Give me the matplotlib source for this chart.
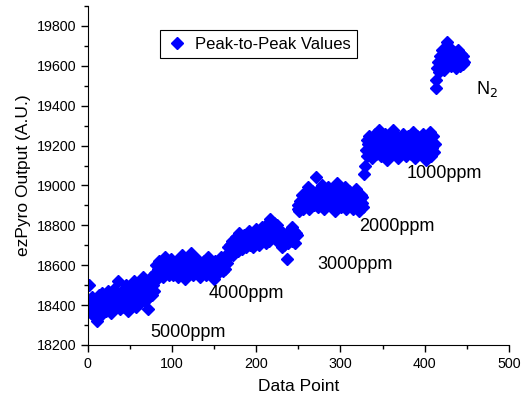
import numpy as np
import matplotlib
matplotlib.use("Agg")
import matplotlib.pyplot as plt
from matplotlib.ticker import MultipleLocator

plt.rcParams['font.family'] = ['Liberation Sans', 'DejaVu Sans']

# Peak-to-peak values per concentration step
seg_5000 = [18500, 18390, 18420, 18360, 18440, 18380, 18410, 18340, 18430, 18370,
            18320, 18400, 18450, 18380, 18420, 18350, 18460, 18410, 18390, 18440,
            18370, 18430, 18400, 18470, 18380, 18420, 18450, 18360, 18440, 18410,
            18480, 18390, 18430, 18460, 18400, 18520, 18420, 18380, 18450, 18410,
            18470, 18430, 18390, 18440, 18500, 18410, 18460, 18370, 18430, 18480,
            18450, 18400, 18470, 18420, 18520, 18440, 18390, 18460, 18490, 18430,
            18470, 18410, 18500, 18450, 18430, 18540, 18470, 18420, 18490, 18460,
            18380, 18510, 18440, 18480, 18540, 18450, 18500, 18470]
seg_4000 = [18540, 18560, 18600, 18530, 18580, 18620, 18550, 18590, 18570, 18610,
            18540, 18600, 18580, 18640, 18560, 18590, 18620, 18550, 18600, 18570,
            18630, 18580, 18550, 18610, 18590, 18570, 18620, 18600, 18540, 18580,
            18610, 18560, 18590, 18650, 18570, 18600, 18530, 18580, 18620, 18560,
            18590, 18610, 18570, 18600, 18660, 18580, 18550, 18620, 18590, 18570,
            18600, 18630, 18560, 18590, 18540, 18610, 18580, 18600, 18570, 18620,
            18590, 18550, 18600, 18580, 18640, 18570, 18590, 18610, 18560, 18600,
            18580, 18530, 18620, 18590, 18570, 18600, 18560, 18610, 18580, 18640,
            18590, 18570, 18620, 18600, 18580, 18650, 18610]
seg_3000 = [18640, 18690, 18660, 18700, 18670, 18720, 18650, 18690, 18710, 18680,
            18740, 18700, 18670, 18720, 18760, 18690, 18710, 18680, 18730, 18700,
            18750, 18720, 18690, 18740, 18710, 18770, 18730, 18700, 18750, 18720,
            18690, 18760, 18740, 18710, 18780, 18730, 18750, 18700, 18770, 18740,
            18720, 18790, 18750, 18730, 18760, 18710, 18800, 18740, 18770, 18720,
            18830, 18760, 18740, 18790, 18750, 18810, 18770, 18730, 18760, 18800,
            18740, 18710, 18770, 18750, 18690, 18730, 18760, 18700, 18740, 18720,
            18630, 18750, 18710, 18770, 18730, 18760, 18720, 18790, 18740, 18770,
            18710, 18760, 18750]
seg_2000 = [18880, 18900, 18870, 18920, 18890, 18950, 18910, 18880, 18940, 18960,
            18900, 18930, 18990, 18920, 18880, 18950, 18910, 18970, 18940, 18900,
            18960, 18920, 19040, 18950, 18890, 18980, 18930, 18910, 18960, 19000,
            18920, 18950, 18880, 18940, 18970, 18910, 18990, 18930, 18960, 18900,
            18950, 18920, 18980, 18940, 18870, 18960, 18930, 19010, 18910, 18950,
            18920, 18970, 18890, 18940, 18960, 18910, 18990, 18930, 18880, 18950,
            18920, 18970, 18940, 18900, 18960, 18930, 18880, 18950, 18910, 18980,
            18940, 18900, 18960, 18870, 18930, 18950, 18910, 18940, 18890]
seg_1000 = [19060, 19100, 19180, 19230, 19150, 19210, 19250, 19170, 19200, 19240,
            19140, 19220, 19190, 19260, 19160, 19210, 19230, 19180, 19280, 19200,
            19150, 19240, 19190, 19220, 19170, 19260, 19210, 19130, 19230, 19190,
            19250, 19170, 19220, 19200, 19280, 19160, 19230, 19190, 19210, 19250,
            19140, 19220, 19180, 19240, 19200, 19170, 19260, 19210, 19190, 19230,
            19150, 19220, 19250, 19180, 19200, 19240, 19160, 19210, 19270, 19190,
            19230, 19140, 19200, 19250, 19180, 19220, 19160, 19240, 19200, 19190,
            19260, 19170, 19220, 19130, 19210, 19240, 19180, 19200, 19270, 19150,
            19220, 19190, 19250, 19170, 19210]
seg_n2 = [19490, 19530, 19590, 19620, 19570, 19650, 19600, 19630, 19680, 19610,
          19580, 19660, 19640, 19600, 19720, 19650, 19620, 19690, 19600, 19640,
          19660, 19610, 19670, 19630, 19590, 19650, 19620, 19680, 19640, 19600,
          19660, 19630, 19610, 19650, 19620]

values = np.array(seg_5000 + seg_4000 + seg_3000 + seg_2000 + seg_1000 + seg_n2)
points = np.arange(1, len(values) + 1)

labels = ["5000ppm", "4000ppm", "3000ppm", "2000ppm", "1000ppm", "N$_2$"]
label_x = [119, 188, 317, 367, 423, 474]
label_y = [18265, 18460, 18605, 18795, 19060, 19485]

fig = plt.figure(figsize=(5.23, 4.0), dpi=100)
ax = fig.add_axes([0.168, 0.1375, 0.805, 0.8475])

ax.plot(points, values, linestyle="none", marker="D", ms=6.3,
        color="#0000ff", mec="#0000ff", label="Peak-to-Peak Values")

for t, x, y in zip(labels, label_x, label_y):
    ax.text(x, y, t, fontsize=13, ha="center", va="center")

ax.set_xlim(0, 500)
ax.set_ylim(18200, 19900)
ax.xaxis.set_major_locator(MultipleLocator(100))
ax.xaxis.set_minor_locator(MultipleLocator(50))
ax.yaxis.set_major_locator(MultipleLocator(200))
ax.yaxis.set_minor_locator(MultipleLocator(100))
ax.tick_params(which="major", direction="out", length=5, width=1, labelsize=10.3)
ax.tick_params(which="minor", direction="out", length=3, width=1)
ax.spines["top"].set_visible(False)
ax.spines["right"].set_visible(False)

ax.set_xlabel("Data Point", fontsize=12.5, labelpad=6)
ax.set_ylabel("ezPyro Output (A.U.)", fontsize=12.5)

leg = ax.legend(loc="upper left", bbox_to_anchor=(0.171, 0.929), borderaxespad=0,
                numpoints=1, fancybox=False, framealpha=1, edgecolor="black",
                fontsize=12, handlelength=1.2, handletextpad=0.5)
leg.get_frame().set_linewidth(0.8)

fig.savefig("out.png", dpi=100)
